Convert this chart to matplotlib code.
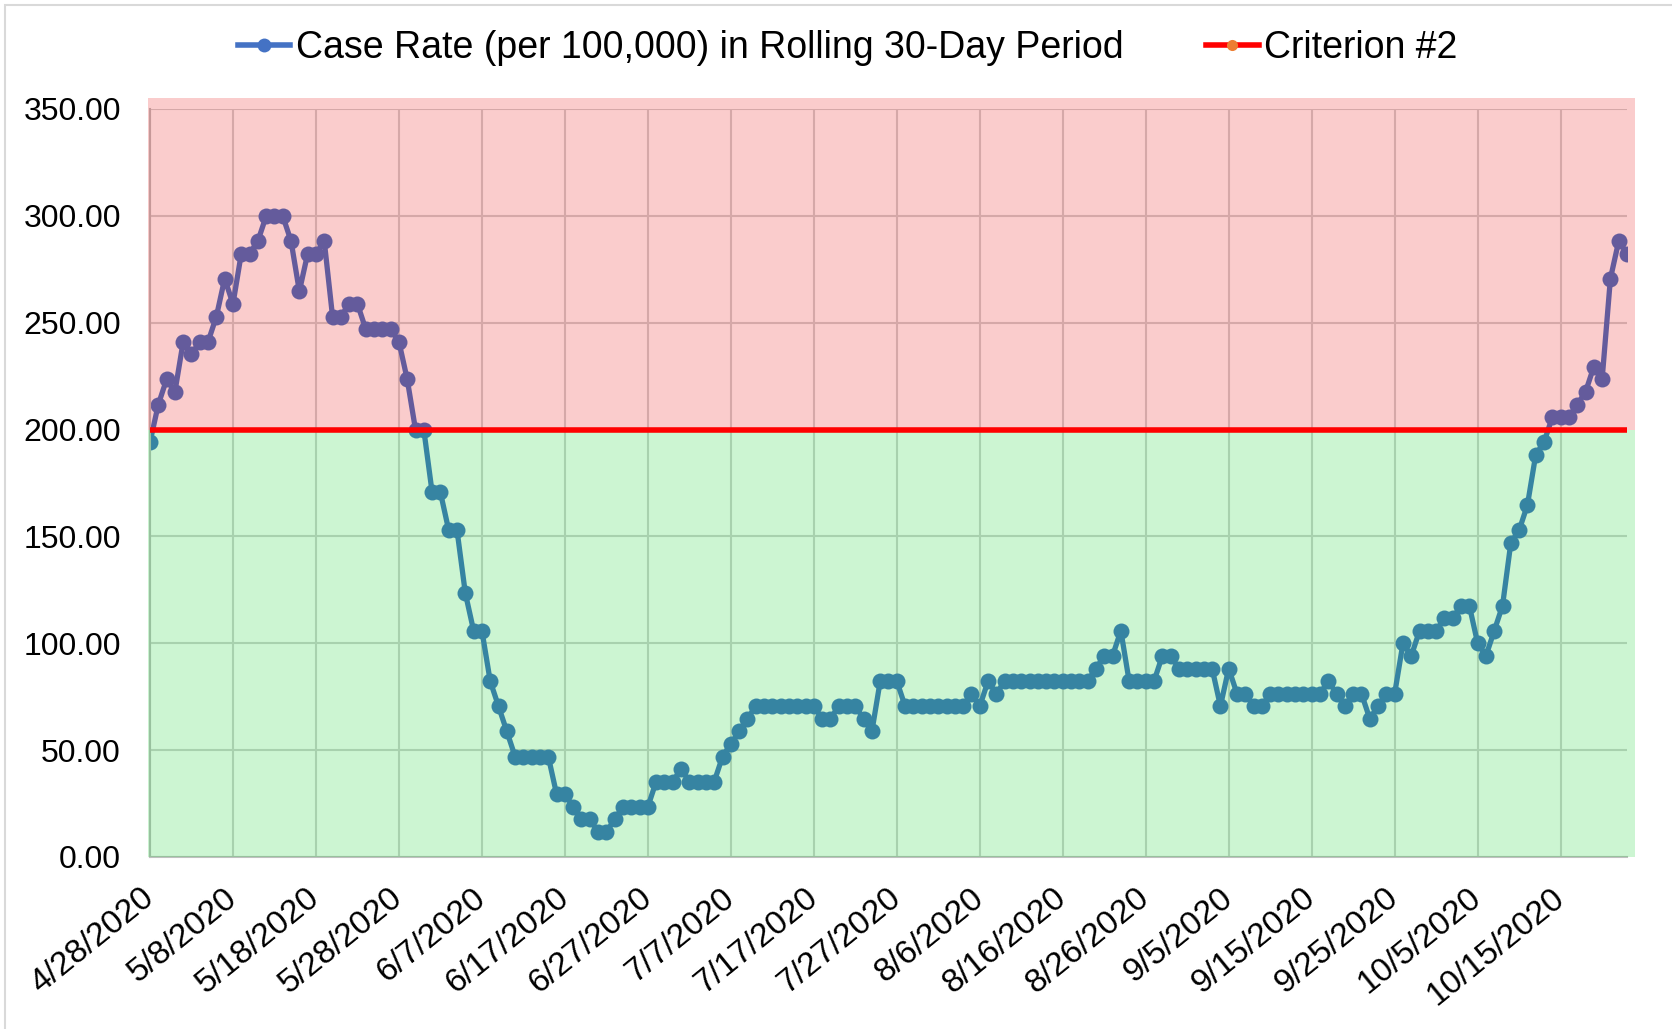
import matplotlib
matplotlib.use("Agg")
import matplotlib.pyplot as plt
import matplotlib.patches as patches
from matplotlib.lines import Line2D
from matplotlib.transforms import ScaledTranslation
import pandas as pd

# case rate per 100,000, one value per day starting 4/28/2020
case_rate = [
    194.1, 211.7, 223.5, 217.6, 241.1, 235.3, 241.1, 241.1, 252.9, 270.6,
    258.8, 282.3, 282.3, 288.2, 299.9, 299.9, 299.9, 288.2, 264.7, 282.3,
    282.3, 288.2, 252.9, 252.9, 258.8, 258.8, 247.0, 247.0, 247.0, 247.0,
    241.1, 223.5, 199.9, 199.9, 170.6, 170.6, 152.9, 152.9, 123.5, 105.9,
    105.9, 82.3, 70.6, 58.8, 47.0, 47.0, 47.0, 47.0, 47.0, 29.4,
    29.4, 23.5, 17.6, 17.6, 11.8, 11.8, 17.6, 23.5, 23.5, 23.5,
    23.5, 35.3, 35.3, 35.3, 41.2, 35.3, 35.3, 35.3, 35.3, 47.0,
    52.9, 58.8, 64.7, 70.6, 70.6, 70.6, 70.6, 70.6, 70.6, 70.6,
    70.6, 64.7, 64.7, 70.6, 70.6, 70.6, 64.7, 58.8, 82.3, 82.3,
    82.3, 70.6, 70.6, 70.6, 70.6, 70.6, 70.6, 70.6, 70.6, 76.4,
    70.6, 82.3, 76.4, 82.3, 82.3, 82.3, 82.3, 82.3, 82.3, 82.3,
    82.3, 82.3, 82.3, 82.3, 88.2, 94.1, 94.1, 105.9, 82.3, 82.3,
    82.3, 82.3, 94.1, 94.1, 88.2, 88.2, 88.2, 88.2, 88.2, 70.6,
    88.2, 76.4, 76.4, 70.6, 70.6, 76.4, 76.4, 76.4, 76.4, 76.4,
    76.4, 76.4, 82.3, 76.4, 70.6, 76.4, 76.4, 64.7, 70.6, 76.4,
    76.4, 100.0, 94.1, 105.9, 105.9, 105.9, 111.7, 111.7, 117.6, 117.6,
    100.0, 94.1, 105.9, 117.6, 147.0, 152.9, 164.7, 188.2, 194.1, 205.8,
    205.8, 205.8, 211.7, 217.6, 229.4, 223.5, 270.6, 288.2, 282.3,
]
criterion = 200.0

dates = pd.date_range("2020-04-28", periods=len(case_rate), freq="D")
tick_labels = [
    "4/28/2020", "5/8/2020", "5/18/2020", "5/28/2020", "6/7/2020", "6/17/2020",
    "6/27/2020", "7/7/2020", "7/17/2020", "7/27/2020", "8/6/2020", "8/16/2020",
    "8/26/2020", "9/5/2020", "9/15/2020", "9/25/2020", "10/5/2020", "10/15/2020",
]
tick_dates = dates[::10][:len(tick_labels)]

plt.rcParams["font.family"] = ["Liberation Sans", "DejaVu Sans"]
plt.rcParams["font.size"] = 23

fig = plt.figure(figsize=(16.72, 10.29), dpi=100)
ax = fig.add_axes([150 / 1672, 1 - 857 / 1029, 1477 / 1672, 748 / 1029])

ax.plot(dates, case_rate, color="#4472C4", lw=3.8, marker="o", markersize=11.5,
        markeredgewidth=0, zorder=2)
ax.plot(dates, [criterion] * len(dates), color="#FF0000", lw=4, zorder=4)

ax.set_xlim(dates[0], dates[-1])
ax.set_ylim(0, 350)

# shaded zones above / below the criterion (drawn over the line, like the original)
x0 = matplotlib.dates.date2num(dates[0]) - 0.25
x1 = matplotlib.dates.date2num(dates[-1]) + 1.0
ax.add_patch(patches.Rectangle((x0, criterion), x1 - x0, 355 - criterion,
                               facecolor="#e60000", alpha=0.2, lw=0,
                               zorder=3, clip_on=False))
ax.add_patch(patches.Rectangle((x0, 0), x1 - x0, criterion,
                               facecolor="#00cd1e", alpha=0.2, lw=0,
                               zorder=3, clip_on=False))

ax.set_yticks(range(0, 351, 50))
ax.set_yticklabels([f"{v:.2f}" for v in range(0, 351, 50)])
ax.set_xticks(tick_dates)
ax.set_xticklabels(tick_labels, rotation=39, ha="right", va="center",
                   rotation_mode="anchor", fontsize=24)
shift = ScaledTranslation(4 / 100, 0, fig.dpi_scale_trans)
for lab in ax.get_xticklabels():
    lab.set_transform(lab.get_transform() + shift)
ax.tick_params(axis="both", length=0)
ax.tick_params(axis="y", pad=21)
ax.tick_params(axis="x", pad=27)

ax.grid(True, color="#d2d2d2", lw=1.5, zorder=0.5)
ax.set_axisbelow(True)
for side in ["top", "right"]:
    ax.spines[side].set_visible(False)
for side in ["left", "bottom"]:
    ax.spines[side].set_color("#bfbfbf")
    ax.spines[side].set_linewidth(1.5)

handles = [
    Line2D([], [], color="#4472C4", lw=4, marker="o", markersize=10,
           markeredgewidth=0),
    Line2D([], [], color="#FF0000", lw=4, marker="o", markersize=8,
           markerfacecolor="#ED7D31", markeredgewidth=0),
]
fig.legend(handles, ["Case Rate (per 100,000) in Rolling 30-Day Period", "Criterion #2"],
           loc="center", bbox_to_anchor=(0.507, 0.953), ncol=2, frameon=False,
           fontsize=27, handlelength=1.4, handletextpad=0.15, columnspacing=2.2)

fig.add_artist(patches.Rectangle((5 / 1672, -0.1), 1.2, 1 - 5 / 1029 + 0.1,
                                 transform=fig.transFigure, fill=False,
                                 edgecolor="#d9d9d9", lw=1.5))

fig.savefig("out.png", dpi=100)
